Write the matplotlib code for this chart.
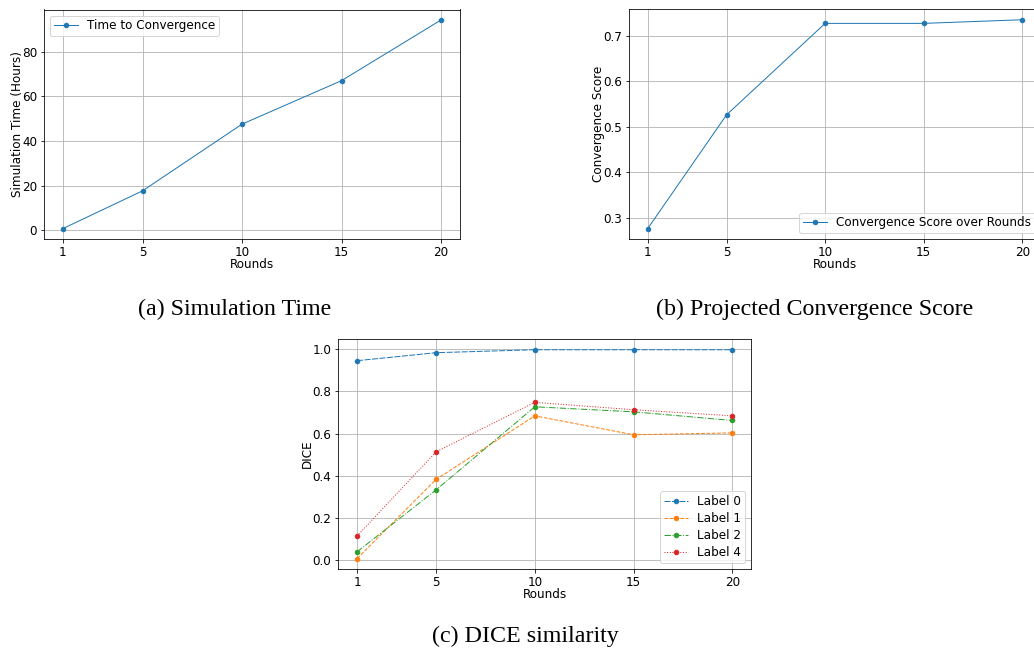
import matplotlib
matplotlib.use("Agg")
import matplotlib.pyplot as plt

rounds = [1, 5, 10, 15, 20]
sim_time_hours = [0.7, 17.6, 47.5, 67.0, 94.2]
convergence_score = [0.276, 0.526, 0.727, 0.727, 0.735]
dice_label0 = [0.946, 0.984, 0.998, 0.998, 0.998]
dice_label1 = [0.006, 0.382, 0.684, 0.594, 0.603]
dice_label2 = [0.038, 0.332, 0.727, 0.703, 0.662]
dice_label4 = [0.113, 0.513, 0.748, 0.713, 0.684]

W, H = 1034, 651
DPI = 72
plt.rcParams['font.size'] = 12
plt.rcParams['legend.labelspacing'] = 0.35
plt.rcParams['legend.borderpad'] = 0.3
fig = plt.figure(figsize=(W / DPI, H / DPI), dpi=DPI)


def add_ax(left, top, right, bottom):
    return fig.add_axes([left / W, 1 - bottom / H, (right - left) / W, (bottom - top) / H])


ms = 4.5
lw = 1.0
xpad = -1
ypad = -2

# (a)
ax1 = add_ax(44, 9.5, 460, 239)
ax1.plot(rounds, sim_time_hours, marker='o', ms=ms, lw=lw, color='#1f77b4', label='Time to Convergence')
ax1.set_xticks(rounds)
ax1.set_xlabel('Rounds', labelpad=xpad)
ax1.set_ylabel('Simulation Time (Hours)', labelpad=ypad)
ax1.grid(True)
ax1.legend(loc='upper left')

# (b)
ax2 = add_ax(629, 9.3, 1041, 239)
ax2.plot(rounds, convergence_score, marker='o', ms=ms, lw=lw, color='#1f77b4', label='Convergence Score over Rounds')
ax2.set_xticks(rounds)
ax2.set_xlabel('Rounds', labelpad=xpad)
ax2.set_ylabel('Convergence Score', labelpad=ypad)
ax2.grid(True)
ax2.legend(loc='lower right')

# (c)
ax3 = add_ax(338.3, 339.3, 751, 569)
ax3.plot(rounds, dice_label0, marker='o', ms=ms, lw=lw, ls=(0, (6, 1.5)), color='#1f77b4', label='Label 0')
ax3.plot(rounds, dice_label1, marker='o', ms=ms, lw=lw, ls='--', color='#ff7f0e', label='Label 1')
ax3.plot(rounds, dice_label2, marker='o', ms=ms, lw=lw, ls='-.', color='#2ca02c', label='Label 2')
ax3.plot(rounds, dice_label4, marker='o', ms=ms, lw=lw, ls=':', color='#d62728', label='Label 4')
ax3.set_xticks(rounds)
ax3.set_xlabel('Rounds', labelpad=xpad)
ax3.set_ylabel('DICE', labelpad=ypad)
ax3.grid(True)
ax3.legend(loc='lower right')

serif = ['Liberation Serif', 'DejaVu Serif']
fig.text(235 / W, 1 - 309 / H, '(a) Simulation Time', family=serif, fontsize=24, ha='center', va='center')
fig.text(815 / W, 1 - 309 / H, '(b) Projected Convergence Score', family=serif, fontsize=24, ha='center', va='center')
fig.text(525 / W, 1 - 636 / H, '(c) DICE similarity', family=serif, fontsize=24, ha='center', va='center')

fig.savefig('out.png', dpi=DPI)
